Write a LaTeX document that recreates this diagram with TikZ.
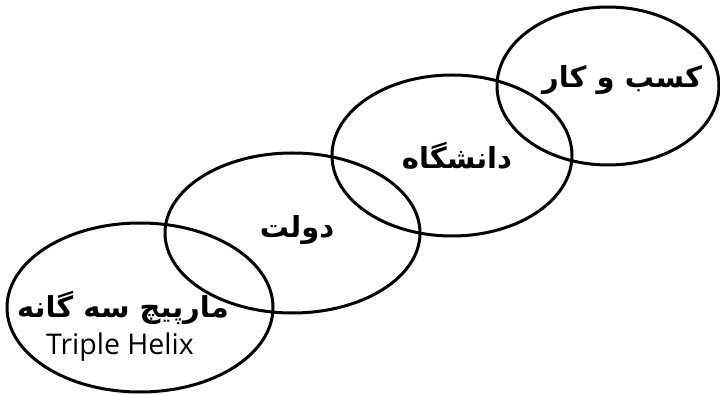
\documentclass[tikz,border=0pt]{standalone}
\usepackage{fontspec}
\setmainfont{Open Sans}
\newfontfamily\arabicfont[Script=Arabic]{DejaVu Sans}
\TeXXeTstate=1
\usetikzlibrary{shapes.geometric}

\tikzset{
  ring/.style={draw=black, line width=3pt, ellipse, inner sep=0pt},
  fa/.style={font=\arabicfont\bfseries\fontsize{29}{34}\selectfont, inner sep=0pt},
  en/.style={font=\fontsize{28.5}{32}\selectfont, inner sep=0pt}
}

\begin{document}
\begin{tikzpicture}[x=1pt, y=-1pt]
  \useasboundingbox (0,0) rectangle (720,395);

  % four overlapping circles of the helix
  \node[ring, minimum width=266pt, minimum height=169pt] (helix) at (140,307.5) {};
  \node[ring, minimum width=255pt, minimum height=160pt] (gov)   at (292.5,233) {};
  \node[ring, minimum width=240pt, minimum height=161pt] (uni)   at (452,155.5) {};
  \node[ring, minimum width=222pt, minimum height=158pt] (biz)   at (608,86) {};

  % labels
  \node[fa] (tbiz)   at (622,80)  {\beginR کسب و کار\endR};
  \node[fa] (tuni)   at (457,156) {\beginR دانشگاه\endR};
  \node[fa] (tgov)   at (297,230) {\beginR دولت\endR};
  \node[fa] (thelix) at (123,308) {\beginR مارپیچ سه گانه\endR};
  \node[en] (tenhelix) at (120,347) {Triple Helix};
\end{tikzpicture}
\end{document}
